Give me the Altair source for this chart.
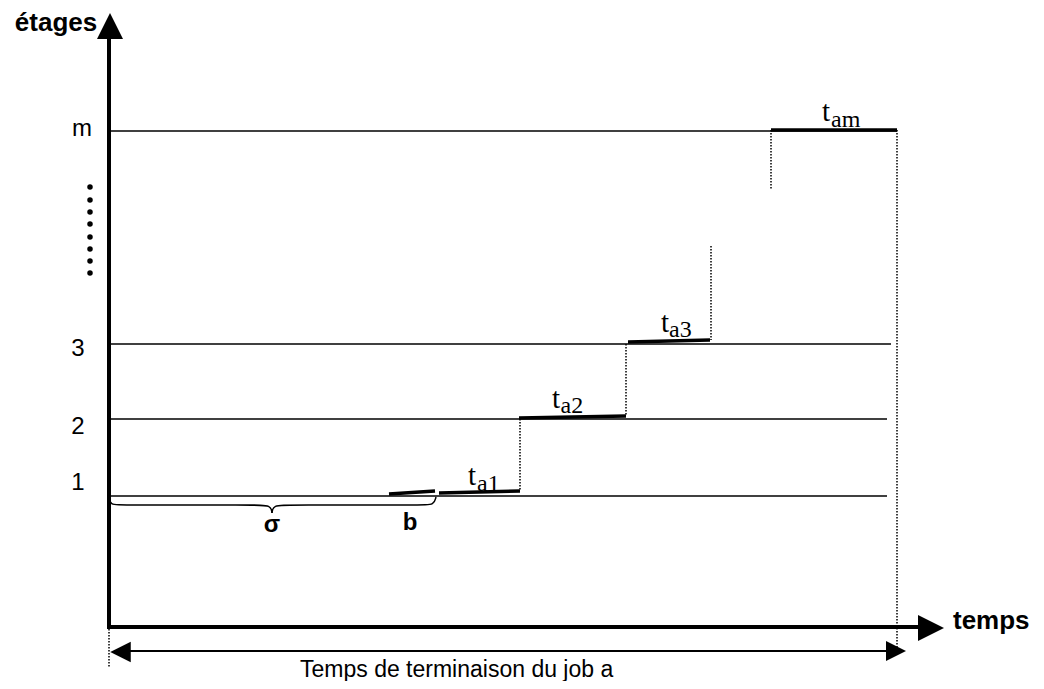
import altair as alt
import pandas as pd

# ---------------- data (diagram coordinates: page-pixel units) ----------------
# horizontal levels (étages)
LEVEL_LABELS = ["1", "2", "3", "m"]
LEVEL_Y = [496, 419, 344, 131]
LEVEL_X_START = [109, 109, 109, 109]
LEVEL_X_END = [887, 887, 891, 897]
LABEL_X = [78, 78, 78, 82]
LABEL_Y = [483, 427, 349, 129]

# thick processing segments (b, t_a1, t_a2, t_a3, t_am)
SEG_NAMES = ["b", "t_a1", "t_a2", "t_a3", "t_am"]
SEG_X0 = [389, 439, 519, 628, 771]
SEG_X1 = [435, 520, 626, 710, 897]
SEG_Y0 = [494, 493, 418, 342, 130]
SEG_Y1 = [491, 491, 416, 340, 130]

# dotted vertical lines
DOT_X = [520, 626, 711, 771, 897, 109]
DOT_Y0 = [419, 344, 246, 130, 130, 629]
DOT_Y1 = [491, 416, 340, 189, 647, 667]

# subscript labels t_a1 ... t_am
SUB_BASE = ["t", "t", "t", "t"]
SUB_TEXT = ["a1", "a2", "a3", "am"]
SUB_T_X = [468, 552, 661, 822]
SUB_T_Y = [485, 408, 332, 121]
SUB_S_X = [477, 560.5, 669, 831]
SUB_S_Y = [491, 413, 337, 127]

# vertical ellipsis dots
ELLIPSIS_Y = [187, 200, 212, 224, 237, 249, 261, 273]
ELLIPSIS_X = 90

# brace under sigma (two halves)
BRACE_PART = ["left"] * 6 + ["right"] * 6
BRACE_ORDER = list(range(6)) + list(range(6))
BRACE_X = [109, 110, 122, 255, 271, 272, 272, 273, 289, 422, 434, 436]
BRACE_Y = [497, 505, 505, 505, 505, 513, 513, 505, 505, 505, 505, 497]

# axes
YAXIS_X, YAXIS_Y0, YAXIS_Y1 = 109, 629, 36
XAXIS_Y, XAXIS_X0, XAXIS_X1 = 627, 107, 920
SPAN_Y, SPAN_X0, SPAN_X1 = 651, 125, 892

# ---------------- scales ----------------
XS = alt.Scale(domain=[8, 1036], nice=False, zero=False)
YS = alt.Scale(domain=[8, 681], reverse=True, nice=False, zero=False)


def X(f="x"):
    return alt.X(f"{f}:Q", scale=XS, axis=None)


def Y(f="y"):
    return alt.Y(f"{f}:Q", scale=YS, axis=None)


layers = []

# level lines
lv = pd.DataFrame({"x": LEVEL_X_START, "x2": LEVEL_X_END, "y": LEVEL_Y})
layers.append(alt.Chart(lv).mark_rule(color="black", strokeWidth=1.6).encode(
    x=X(), x2="x2:Q", y=Y()))

# level labels
lb = pd.DataFrame({"x": LABEL_X, "y": LABEL_Y, "t": LEVEL_LABELS})
layers.append(alt.Chart(lb).mark_text(font="Liberation Sans", fontSize=24, align="center",
                                      baseline="middle", color="black").encode(
    x=X(), y=Y(), text="t:N"))

# axes lines
ax = pd.DataFrame({"x": [YAXIS_X, XAXIS_X0], "y": [YAXIS_Y0, XAXIS_Y],
                   "x2": [YAXIS_X, XAXIS_X1], "y2": [YAXIS_Y1, XAXIS_Y]})
layers.append(alt.Chart(ax).mark_rule(color="black", strokeWidth=4).encode(
    x=X(), y=Y(), x2="x2:Q", y2="y2:Q"))

# span line (temps de terminaison)
sp = pd.DataFrame({"x": [SPAN_X0], "x2": [SPAN_X1], "y": [SPAN_Y]})
layers.append(alt.Chart(sp).mark_rule(color="black", strokeWidth=2).encode(
    x=X(), x2="x2:Q", y=Y()))

# arrow heads
heads = [
    (YAXIS_X + 1, 26, "M0,-1L1,1L-1,1Z", 676),
    (931, XAXIS_Y + 1, "M1,0L-1,-1L-1,1Z", 676),
    (120.5, SPAN_Y + 1, "M-1,0L1,-1L1,1Z", 420),
    (896, SPAN_Y, "M1,0L-1,-1L-1,1Z", 400),
]
for hx, hy, shp, sz in heads:
    layers.append(alt.Chart(pd.DataFrame({"x": [hx], "y": [hy]})).mark_point(
        shape=shp, size=sz, filled=True, color="black", opacity=1, strokeWidth=0).encode(
        x=X(), y=Y()))

# dotted verticals
dt = pd.DataFrame({"x": DOT_X, "y": DOT_Y0, "y2": DOT_Y1})
layers.append(alt.Chart(dt).mark_rule(color="black", strokeWidth=1.5, strokeDash=[1.5, 1.5]).encode(
    x=X(), y=Y(), y2="y2:Q"))

# thick segments
sg = pd.DataFrame({"name": SEG_NAMES, "x": SEG_X0, "x2": SEG_X1, "y": SEG_Y0, "y2": SEG_Y1})
layers.append(alt.Chart(sg).mark_rule(color="black", strokeWidth=3.6).encode(
    x=X(), x2="x2:Q", y=Y(), y2="y2:Q"))

# ellipsis dots
el = pd.DataFrame({"x": [ELLIPSIS_X] * len(ELLIPSIS_Y), "y": ELLIPSIS_Y})
layers.append(alt.Chart(el).mark_point(shape="circle", size=30, filled=True, color="black",
                                       opacity=1, strokeWidth=0).encode(x=X(), y=Y()))

# brace
br = pd.DataFrame({"part": BRACE_PART, "o": BRACE_ORDER, "x": BRACE_X, "y": BRACE_Y})
layers.append(alt.Chart(br).mark_line(color="black", strokeWidth=1.5, interpolate="basis").encode(
    x=X(), y=Y(), detail="part:N", order="o:Q"))

# subscript labels
tb = pd.DataFrame({"x": SUB_T_X, "y": SUB_T_Y, "t": SUB_BASE})
layers.append(alt.Chart(tb).mark_text(font="Liberation Serif", fontSize=29, align="left",
                                      baseline="alphabetic", color="black").encode(
    x=X(), y=Y(), text="t:N"))
ts = pd.DataFrame({"x": SUB_S_X, "y": SUB_S_Y, "t": SUB_TEXT})
layers.append(alt.Chart(ts).mark_text(font="Liberation Serif", fontSize=24, align="left",
                                      baseline="alphabetic", color="black").encode(
    x=X(), y=Y(), text="t:N"))

# other texts
texts = [
    ("étages", 56, 23, 26, "bold", "center"),
    ("temps", 953, 621, 26, "bold", "left"),
    ("σ", 272, 525, 24, "bold", "center"),
    ("b", 410, 523, 24, "bold", "center"),
    ("Temps de terminaison du job a", 300, 670, 23, "normal", "left"),
]
for s, tx, ty, fs, fw, al in texts:
    layers.append(alt.Chart(pd.DataFrame({"x": [tx], "y": [ty], "t": [s]})).mark_text(
        font="Liberation Sans", fontSize=fs, fontWeight=fw, align=al, baseline="middle",
        color="black").encode(x=X(), y=Y(), text="t:N"))

chart = alt.layer(*layers).properties(
    width=1028, height=673, padding=0, autosize=alt.AutoSizeParams(type="none"),
    background="white"
).configure_view(stroke=None)

chart.save("out.html", embed_options={"renderer": "svg", "actions": False})
